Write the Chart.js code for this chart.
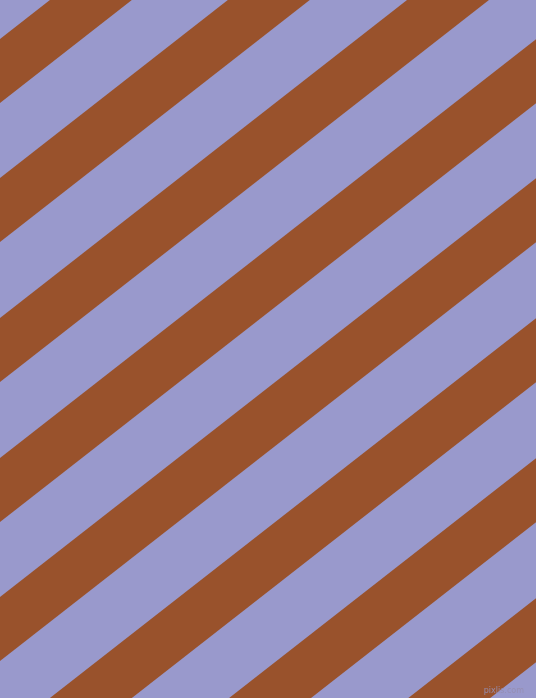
<!DOCTYPE html>
<html>
<head>
<meta charset="utf-8">
<script src="https://cdn.jsdelivr.net/npm/chart.js@4/dist/chart.umd.min.js"></script>
<style>
  html, body { margin: 0; padding: 0; background: #9999cc; overflow: hidden; }
  #wrap { position: relative; width: 536px; height: 698px; }
  #mark { position: absolute; right: 12px; bottom: 3px; font: 8px "DejaVu Sans", sans-serif; color: rgba(150,142,178,0.95); }
</style>
</head>
<body>
<div id="wrap">
  <canvas id="stripes" width="536" height="698"></canvas>
  <div id="mark">pixlis.com</div>
</div>
<script>
// y where each brown band's upper edge meets the left border (px from top)
const stripeTop = [39, 178, 318, 458, 597, 737, 877, 1017];
// vertical thickness of a brown band, and its slope angle in degrees
const stripeDepth = 64;
const stripeAngle = 38;
const stripeColor = '#99522c';
const fieldColor = '#9999cc';

const W = 536, H = 698;
const slope = Math.tan(stripeAngle * Math.PI / 180);
const lineW = stripeDepth * Math.cos(stripeAngle * Math.PI / 180);

// each band is one thick straight line, running past both borders
const xEnds = [-80, W + 80];
const datasets = stripeTop.map(top => {
    const mid = top + stripeDepth / 2;
    return {
        data: xEnds.map(x => ({ x: x, y: mid - slope * x })),
        showLine: true,
        borderColor: stripeColor,
        borderWidth: lineW,
        borderCapStyle: 'butt',
        pointRadius: 0,
        fill: false
    };
});

new Chart(document.getElementById('stripes'), {
    type: 'scatter',
    data: { datasets: datasets },
    options: {
        responsive: false,
        animation: false,
        devicePixelRatio: 1,
        layout: { padding: 0 },
        plugins: { legend: { display: false }, tooltip: { enabled: false } },
        scales: {
            x: { type: 'linear', min: 0, max: W, display: false },
            y: { type: 'linear', min: 0, max: H, reverse: true, display: false }
        }
    }
});
</script>
</body>
</html>
